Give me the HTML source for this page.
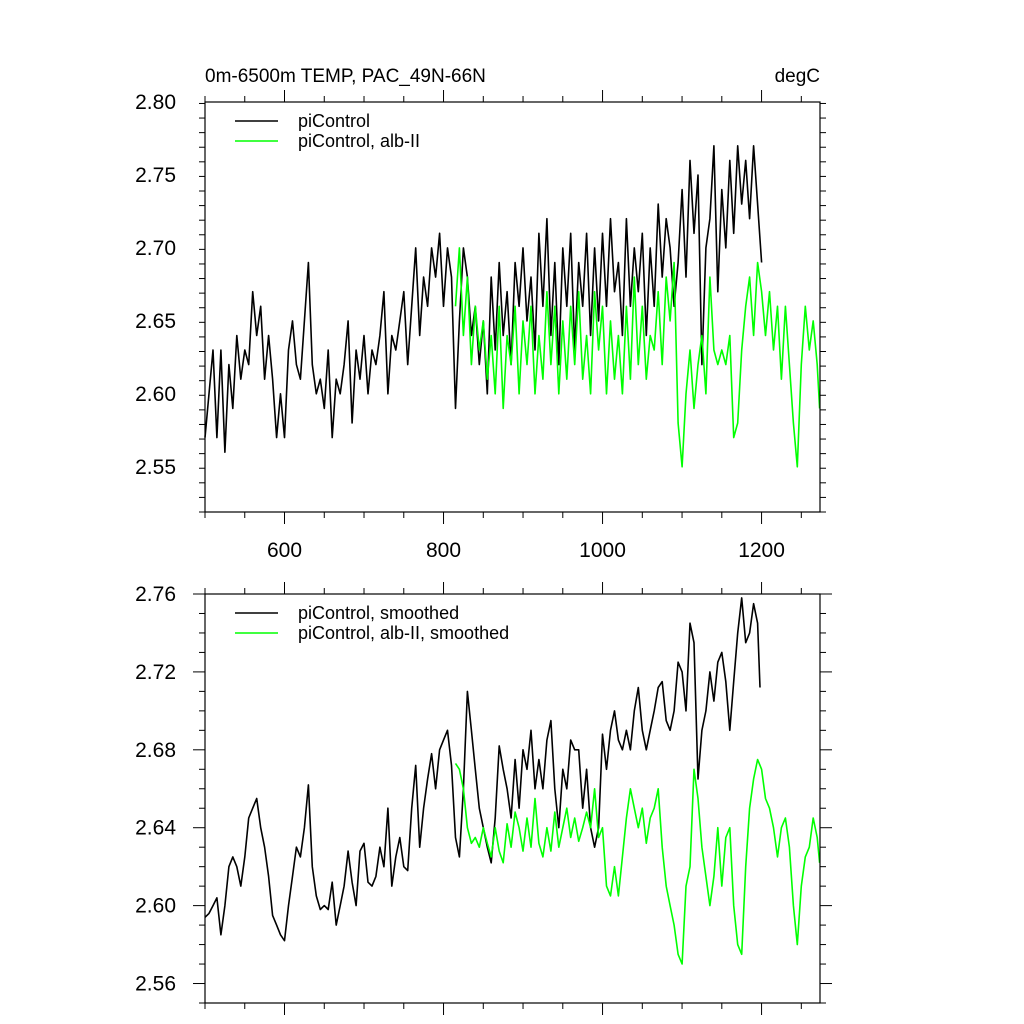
<!DOCTYPE html>
<html><head><meta charset="utf-8"><style>body{margin:0;background:#fff}svg{display:block}text{font-family:"Liberation Sans",sans-serif;fill:#000}</style></head>
<body>
<svg id="chart" width="1024" height="1024" xmlns="http://www.w3.org/2000/svg"></svg>
<script>
const rawBlackStart=500, rawStep=5;
const rawBlack=[2.57,2.60,2.63,2.57,2.63,2.56,2.62,2.59,2.64,2.61,2.63,2.62,2.67,2.64,2.66,2.61,2.64,2.61,2.57,2.60,2.57,2.63,2.65,2.62,2.61,2.65,2.69,2.62,2.60,2.61,2.59,2.63,2.57,2.61,2.60,2.62,2.65,2.58,2.63,2.61,2.64,2.60,2.63,2.62,2.64,2.67,2.60,2.64,2.63,2.65,2.67,2.62,2.66,2.70,2.64,2.68,2.66,2.70,2.68,2.71,2.66,2.70,2.68,2.59,2.65,2.70,2.68,2.64,2.66,2.62,2.65,2.60,2.68,2.63,2.69,2.64,2.67,2.62,2.69,2.66,2.70,2.65,2.68,2.63,2.71,2.66,2.72,2.64,2.69,2.62,2.70,2.66,2.71,2.63,2.69,2.66,2.71,2.64,2.70,2.65,2.71,2.66,2.72,2.67,2.69,2.64,2.72,2.66,2.70,2.67,2.71,2.64,2.70,2.66,2.73,2.68,2.72,2.70,2.66,2.69,2.74,2.68,2.76,2.71,2.75,2.62,2.70,2.72,2.77,2.67,2.74,2.70,2.76,2.71,2.77,2.73,2.76,2.72,2.77,2.73,2.69];
const rawGreenStart=815;
const rawGreen=[2.66,2.70,2.64,2.68,2.62,2.66,2.63,2.65,2.61,2.64,2.60,2.66,2.59,2.64,2.62,2.66,2.60,2.65,2.62,2.66,2.60,2.64,2.61,2.67,2.62,2.66,2.60,2.65,2.61,2.66,2.62,2.67,2.61,2.64,2.60,2.67,2.63,2.66,2.60,2.65,2.61,2.64,2.60,2.66,2.61,2.68,2.62,2.66,2.61,2.64,2.63,2.67,2.62,2.68,2.65,2.69,2.58,2.55,2.60,2.63,2.59,2.62,2.64,2.60,2.68,2.63,2.62,2.63,2.62,2.64,2.57,2.58,2.63,2.66,2.68,2.64,2.69,2.67,2.64,2.67,2.63,2.66,2.61,2.66,2.62,2.58,2.55,2.62,2.66,2.63,2.65,2.62,2.59];
const smBlack=[2.594,2.596,2.600,2.604,2.585,2.600,2.620,2.625,2.620,2.610,2.625,2.645,2.650,2.655,2.640,2.630,2.615,2.595,2.590,2.585,2.582,2.600,2.615,2.630,2.625,2.640,2.662,2.620,2.605,2.598,2.600,2.598,2.612,2.590,2.600,2.610,2.628,2.612,2.600,2.628,2.632,2.612,2.610,2.615,2.630,2.620,2.650,2.610,2.625,2.635,2.620,2.618,2.650,2.672,2.630,2.650,2.665,2.678,2.660,2.680,2.685,2.690,2.672,2.635,2.625,2.660,2.710,2.690,2.670,2.650,2.640,2.630,2.622,2.645,2.682,2.670,2.660,2.645,2.675,2.650,2.680,2.670,2.690,2.660,2.675,2.660,2.685,2.695,2.660,2.640,2.670,2.660,2.685,2.680,2.680,2.650,2.670,2.640,2.630,2.640,2.688,2.670,2.690,2.700,2.685,2.680,2.690,2.680,2.700,2.712,2.690,2.680,2.690,2.700,2.712,2.715,2.695,2.690,2.700,2.725,2.720,2.700,2.745,2.735,2.665,2.690,2.700,2.720,2.705,2.725,2.730,2.715,2.690,2.715,2.740,2.758,2.735,2.740,2.755,2.745,2.712];
const smGreen=[2.673,2.670,2.660,2.640,2.632,2.635,2.630,2.640,2.632,2.625,2.640,2.628,2.622,2.642,2.630,2.648,2.640,2.628,2.645,2.630,2.655,2.632,2.625,2.640,2.628,2.648,2.630,2.640,2.650,2.635,2.645,2.633,2.640,2.648,2.640,2.660,2.635,2.640,2.610,2.605,2.620,2.605,2.625,2.645,2.660,2.650,2.640,2.650,2.632,2.645,2.650,2.660,2.630,2.610,2.600,2.590,2.575,2.570,2.610,2.620,2.670,2.655,2.630,2.615,2.600,2.615,2.640,2.610,2.635,2.640,2.600,2.580,2.575,2.620,2.650,2.665,2.675,2.670,2.655,2.650,2.640,2.625,2.640,2.645,2.630,2.600,2.580,2.610,2.625,2.630,2.645,2.635,2.622];
const xTicks=[600,800,1000,1200];
const topYTicks=[2.55,2.60,2.65,2.70,2.75,2.80];
const botYTicks=[2.56,2.60,2.64,2.68,2.72,2.76];

const svg=document.getElementById('chart');
const NS='http://www.w3.org/2000/svg';
function mk(tag,attrs,parent){const e=document.createElementNS(NS,tag);for(const k in attrs)e.setAttribute(k,attrs[k]);(parent||svg).appendChild(e);return e;}
const L=205,R=820,X0=500,X1=1273.5;
const xs=v=>L+(v-X0)/(X1-X0)*(R-L);
function panel(name,top,bot,y0,y1,yTicks,minorStep,showXLabels,series,legend){
  const ys=v=>bot-(v-y0)/(y1-y0)*(bot-top);
  const g=mk('g',{});
  
  
  series.forEach(s=>{
    const pts=s.vals.map((v,i)=>{let x=s.start+i*5;if(s.end&&i==s.vals.length-1)x=s.end;return xs(x).toFixed(1)+','+ys(v).toFixed(1);}).join(' ');
    const p=mk('polyline',{points:pts,fill:'none',stroke:s.color,'stroke-width':1.6,'stroke-linejoin':'round'},g);
    
    
  });
  mk('rect',{x:L,y:top,width:R-L,height:bot-top,fill:'none',stroke:'#000','stroke-width':1.2},g);
  for(let v=y0;v<=y1+1e-9;v+=minorStep){
    const y=ys(v);const major=yTicks.some(t=>Math.abs(t-v)<1e-6);const len=major?12:6;
    mk('line',{x1:L-len,x2:L,y1:y,y2:y,stroke:'#000','stroke-width':1},g);
    mk('line',{x1:R,x2:R+len,y1:y,y2:y,stroke:'#000','stroke-width':1},g);
  }
  yTicks.forEach(t=>{const tx=mk('text',{x:L-29,y:ys(t)+7,'text-anchor':'end','font-size':21},g);tx.textContent=t.toFixed(2);
    
    });
  for(let v=500;v<=1273;v+=50){const x=xs(v);const major=xTicks.includes(v);const len=major?12:6;
    mk('line',{x1:x,x2:x,y1:bot,y2:bot+len,stroke:'#000','stroke-width':1},g);
    mk('line',{x1:x,x2:x,y1:top-len,y2:top,stroke:'#000','stroke-width':1},g);}
  if(showXLabels)xTicks.forEach(t=>{const tx=mk('text',{x:xs(t),y:bot+45,'text-anchor':'middle','font-size':21},g);tx.textContent=t;
    
    });
  legend.forEach((l,i)=>{const y=top+19+i*20;
    mk('line',{x1:235,x2:278,y1:y,y2:y,stroke:l.color,'stroke-width':1.6},g);
    const tx=mk('text',{x:298,y:y+6,'font-size':18},g);tx.textContent=l.label;
    
    });
}
panel('top-panel',102,512,2.519,2.80,topYTicks,0.01,true,
 [{name:'black-raw-line',vals:rawBlack,start:rawBlackStart,color:'#000'},{name:'green-raw-line',vals:rawGreen,start:rawGreenStart,end:1273,color:'#00ff00'}],
 [{color:'#000',label:'piControl'},{color:'#00ff00',label:'piControl, alb-II'}]);
panel('bottom-panel',594,1003,2.55,2.76,botYTicks,0.01,false,
 [{name:'black-smoothed-line',vals:smBlack,start:500,end:1198,color:'#000'},{name:'green-smoothed-line',vals:smGreen,start:815,end:1273,color:'#00ff00'}],
 [{color:'#000',label:'piControl, smoothed'},{color:'#00ff00',label:'piControl, alb-II, smoothed'}]);
const t1=mk('text',{x:205,y:82,'font-size':19});t1.textContent='0m-6500m TEMP, PAC_49N-66N';


const t2=mk('text',{x:820,y:82,'font-size':19,'text-anchor':'end'});t2.textContent='degC';


</script>
</body></html>
